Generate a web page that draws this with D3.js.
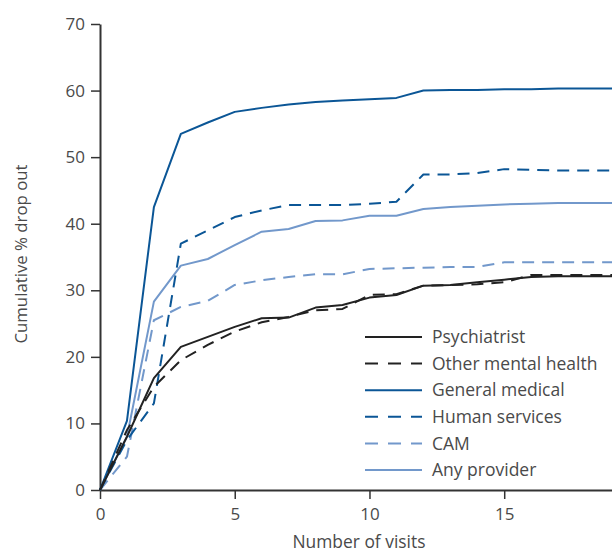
<!DOCTYPE html>
<html>
<head>
<meta charset="utf-8">
<script src="https://cdn.jsdelivr.net/npm/d3@7"></script>
<style>
  html, body { margin: 0; padding: 0; background: #fff; }
  svg { display: block; }
  text { font-family: "Open Sans", sans-serif; fill: #4a4a4a; }
</style>
</head>
<body>
<svg id="chart" width="612" height="554"></svg>
<script>
// ── data ─────────────────────────────────────────────────────────────
const visits = [0, 1, 2, 3, 4, 5, 6, 7, 8, 9, 10, 11, 12, 13, 14, 15, 16, 17, 18, 19];

const psychiatrist  = [0, 8, 16.8, 21.5, 23, 24.5, 25.8, 25.9, 27.4, 27.8, 28.9, 29.3, 30.7, 30.8, 31.2, 31.6, 32.0, 32.1, 32.1, 32.1];
const otherMental   = [0, 9, 15.5, 19.5, 21.8, 23.8, 25.2, 26.0, 27.0, 27.2, 29.3, 29.4, 30.7, 30.8, 30.9, 31.2, 32.3, 32.3, 32.3, 32.3];
const generalMed    = [0, 10.4, 42.5, 53.5, 55.2, 56.8, 57.4, 57.9, 58.3, 58.5, 58.7, 58.9, 60.0, 60.1, 60.1, 60.2, 60.2, 60.3, 60.3, 60.3];
const humanServices = [0, 7.5, 13, 37, 39, 41, 42, 42.8, 42.8, 42.8, 43, 43.3, 47.4, 47.4, 47.6, 48.2, 48.1, 48.0, 48.0, 48.0];
const cam           = [0, 5, 25.5, 27.5, 28.4, 30.8, 31.5, 32, 32.4, 32.4, 33.2, 33.3, 33.4, 33.5, 33.5, 34.2, 34.2, 34.2, 34.2, 34.2];
const anyProvider   = [0, 8, 28.3, 33.7, 34.7, 36.8, 38.8, 39.2, 40.4, 40.5, 41.2, 41.2, 42.2, 42.5, 42.7, 42.9, 43.0, 43.1, 43.1, 43.1];

const yTicks = [0, 10, 20, 30, 40, 50, 60, 70];
const xTicks = [0, 5, 10, 15];

// ── styles ───────────────────────────────────────────────────────────
const DARK = '#222222';
const NAVY = '#0b5696';
const LIGHT = '#7298cb';
const DASH = '12,8';

const series = [
  { name: 'Psychiatrist',        values: psychiatrist,  color: DARK,  dash: null },
  { name: 'Other mental health', values: otherMental,   color: DARK,  dash: DASH },
  { name: 'General medical',     values: generalMed,    color: NAVY,  dash: null },
  { name: 'Human services',      values: humanServices, color: NAVY,  dash: DASH },
  { name: 'CAM',                 values: cam,           color: LIGHT, dash: DASH },
  { name: 'Any provider',        values: anyProvider,   color: LIGHT, dash: null },
];

// ── layout ───────────────────────────────────────────────────────────
const svg = d3.select('#chart');

const x = d3.scaleLinear().domain([0, 19]).range([100, 612]);
const y = d3.scaleLinear().domain([0, 70]).range([490, 24]);

// Axes
const yAxis = svg.append('g')
  .attr('transform', `translate(${x(0)},0)`)
  .call(d3.axisLeft(y).tickValues(yTicks).tickSize(9).tickSizeOuter(0).tickPadding(6));

const xAxis = svg.append('g')
  .attr('transform', `translate(0,${y(0)})`)
  .call(d3.axisBottom(x).tickValues(xTicks).tickSize(9).tickSizeOuter(0).tickPadding(9));

for (const ax of [yAxis, xAxis]) {
  ax.select('.domain').attr('stroke', '#333').attr('stroke-width', 2);
  ax.selectAll('.tick line').attr('stroke', '#333').attr('stroke-width', 1.5);
  ax.selectAll('.tick text')
    .attr('fill', '#4a4a4a')
    .style('font-family', '"Open Sans", sans-serif')
    .style('font-size', '17px');
}

// Axis titles
svg.append('text')
  .attr('x', 359)
  .attr('y', 548)
  .attr('text-anchor', 'middle')
  .style('font-size', '17.4px')
  .text('Number of visits');

svg.append('text')
  .attr('transform', 'translate(27,254) rotate(-90)')
  .attr('text-anchor', 'middle')
  .style('font-size', '16.8px')
  .text('Cumulative % drop out');

// Lines (drawn so navy sits over light, black over all)
const line = d3.line()
  .x((d, i) => x(visits[i]))
  .y(d => y(d));

const drawOrder = [5, 4, 3, 2, 1, 0];
svg.append('g')
  .selectAll('path')
  .data(drawOrder.map(i => series[i]))
  .join('path')
  .attr('d', d => line(d.values))
  .attr('fill', 'none')
  .attr('stroke', d => d.color)
  .attr('stroke-width', 2)
  .attr('stroke-dasharray', d => d.dash)
  .attr('stroke-linejoin', 'round');

// Legend
const legend = svg.append('g').attr('transform', 'translate(365,337)');
const rows = legend.selectAll('g')
  .data(series)
  .join('g')
  .attr('transform', (d, i) => `translate(0,${i * 26.6})`);

rows.append('line')
  .attr('x1', 0).attr('x2', 57)
  .attr('stroke', d => d.color)
  .attr('stroke-width', 2)
  .attr('stroke-dasharray', d => d.dash ? '13,10' : null);

rows.append('text')
  .attr('x', 67)
  .attr('dy', '0.35em')
  .style('font-size', '17.5px')
  .text(d => d.name);
</script>
</body>
</html>
